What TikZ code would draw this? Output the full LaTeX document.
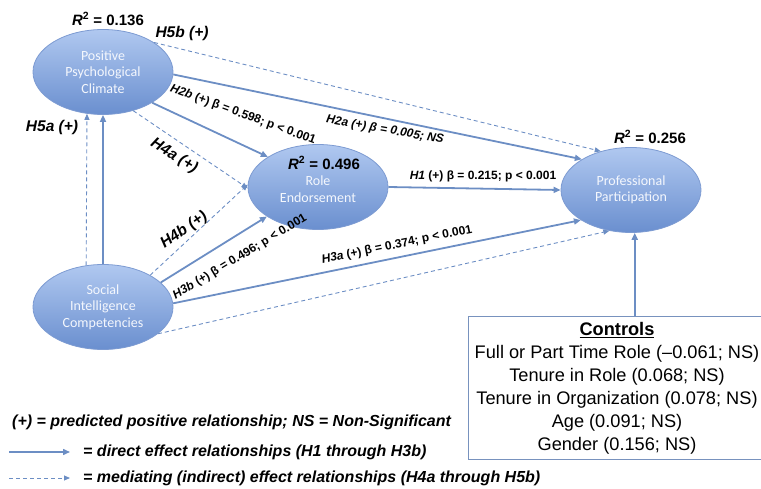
\documentclass[tikz,border=0pt]{standalone}
\usepackage{fontspec}
\setmainfont{Liberation Sans}
\newfontfamily\calibfont{Carlito}
\usetikzlibrary{shapes.geometric, arrows.meta, positioning, calc}
\definecolor{pathBlue}{RGB}{108, 142, 196}
\definecolor{ovalTop}{RGB}{176, 200, 240}
\definecolor{ovalBottom}{RGB}{106, 143, 207}
\definecolor{ovalEdge}{RGB}{125, 155, 210}
\definecolor{ovalText}{RGB}{244, 247, 253}
\definecolor{boxEdge}{RGB}{120, 146, 190}

\tikzset{
  latent/.style={ellipse, draw=ovalEdge, line width=0.8pt, top color=ovalTop, bottom color=ovalBottom,
    minimum width=140pt, minimum height=85pt, inner sep=0pt, align=center,
    font=\calibfont\fontsize{14}{16.5}\selectfont, text=ovalText},
  direct/.style={draw=pathBlue, line width=1.8pt, -{Triangle[length=7pt, width=6pt]}},
  mediate/.style={draw=pathBlue, line width=0.9pt, dash pattern=on 4pt off 3pt, -{Triangle[length=6pt, width=5pt]}},
  rsq/.style={font=\fontsize{15}{18}\selectfont\bfseries},
  hyp/.style={font=\fontsize{15.5}{18}\selectfont\bfseries\itshape},
  coef/.style={font=\fontsize{12}{14}\selectfont\bfseries, inner sep=0pt},
  legend/.style={font=\fontsize{16}{19}\selectfont\bfseries\itshape, anchor=west, inner sep=0pt}
}

\begin{document}
\begin{tikzpicture}[x=1pt, y=-1pt]
  \useasboundingbox (0,0) rectangle (761,489);

  % Constructs
  \node[latent] (ppc) at (103,72) {Positive\\Psychological\\Climate};
  \node[latent] (re) at (318,187) {\\[-2pt]Role\\Endorsement};
  \node[latent] (pp) at (631,190) {Professional\\Participation};
  \node[latent] (sic) at (103,307) {Social\\Intelligence\\Competencies};

  % Explained variance
  \node[rsq] (r2ppc) at (108,19) {\textit{R}\textsuperscript{2} = 0.136};
  \node[rsq] (r2re) at (324,163) {\textit{R}\textsuperscript{2} = 0.496};
  \node[rsq] (r2pp) at (650,137) {\textit{R}\textsuperscript{2} = 0.256};

  % Controls
  \node[draw=boxEdge, line width=1pt, fill=white, minimum width=298pt, minimum height=142pt,
        align=center, font=\fontsize{18.2}{23}\selectfont] (controls) at (617,388)
    {\textbf{\underline{Controls}}\\
     Full or Part Time Role (--0.061; NS)\\
     Tenure in Role (0.068; NS)\\
     Tenure in Organization (0.078; NS)\\
     Age (0.091; NS)\\
     Gender (0.156; NS)};

  % Direct effects
  \draw[direct] (sic.90) -- (ppc.-90);
  \draw[direct] (ppc.-32) -- (re.149);
  \draw[direct] (sic.23) -- (re.210);
  \draw[direct] (ppc.-2) -- (pp.148);
  \draw[direct] (re.0) -- (pp.180);
  \draw[direct] (sic.3) -- (pp.211);
  \draw[direct] (controls.north -| pp.-85) -- (pp.-85);

  % Mediating effects
  \draw[mediate] (sic.112) -- (ppc.-111);
  \draw[mediate] (ppc.-52) -- (re.181);
  \draw[mediate] (sic.34) -- (re.178);
  \draw[mediate] (ppc.30) -- (pp.128);
  \draw[mediate] (sic.-26) -- (pp.242);

  % Hypothesis labels
  \node[hyp] (h5b) at (182,33) {H5b (+)};
  \node[hyp] (h5a) at (52,127) {H5a (+)};
  \node[hyp, rotate=-32] (h4a) at (174,156) {H4a (+)};
  \node[hyp, rotate=35] (h4b) at (184,230) {H4b (+)};
  \node[coef, rotate=-20] (h2b) at (243,115) {\textit{H2b} (+) β = 0.598; p {\textless} 0.001};
  \node[coef, rotate=-10] (h2a) at (385,130) {\itshape H2a (+) β = 0.005; NS};
  \node[coef] (h1) at (483,176) {\textit{H1} (+) β = 0.215; p {\textless} 0.001};
  \node[coef, rotate=31] (h3b) at (240,257) {\textit{H3b} (+) β = 0.496; p {\textless} 0.001};
  \node[coef, rotate=11.5] (h3a) at (397,245) {\textit{H3a} (+) β = 0.374; p {\textless} 0.001};

  % Legend
  \node[legend] (key) at (12,422) {(+) = predicted positive relationship; NS = Non-Significant};
  \coordinate (d0) at (9,452);
  \coordinate (d1) at (70,452);
  \draw[direct, line width=1.5pt] (d0) -- (d1);
  \node[legend] (keyd) at (83,452) {= direct effect relationships (H1 through H3b)};
  \coordinate (m0) at (9,478);
  \coordinate (m1) at (70,478);
  \draw[mediate] (m0) -- (m1);
  \node[legend] (keym) at (83,478) {= mediating (indirect) effect relationships (H4a through H5b)};
\end{tikzpicture}
\end{document}
